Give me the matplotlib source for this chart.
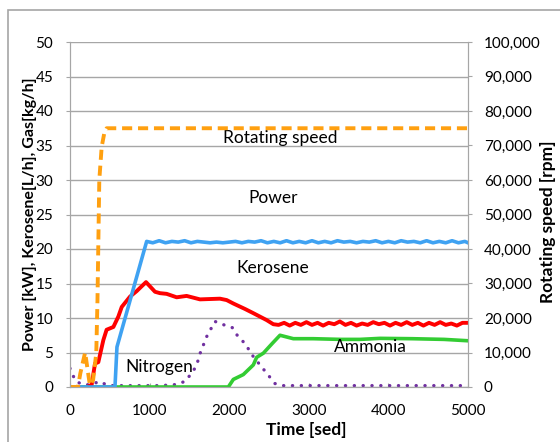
import matplotlib
matplotlib.use("Agg")
import matplotlib.pyplot as plt
from matplotlib.patches import Rectangle
from matplotlib.ticker import FuncFormatter

plt.rcParams['font.family'] = ['Lato', 'DejaVu Sans']

# rotating speed [rpm] (right axis)
rs_t = [0, 100, 130, 190, 250, 290, 330, 345, 368, 398, 430, 460, 5000]
rs_v = [0, 0, 4000, 10000, 500, 2000, 9800, 25000, 60000, 69600, 73500, 75000, 75000]

# power [kW]
pw_t = [0, 565, 590, 963, 1040, 1120, 1200, 1280, 1360, 1440, 1520, 1600, 1680,
        1760, 1840, 1920, 2000, 2080, 2160, 2240, 2320, 2400, 2480, 2560, 2640,
        2720, 2800, 2880, 2960, 3040, 3120, 3200, 3280, 3360, 3440, 3520, 3600,
        3680, 3760, 3840, 3920, 4000, 4080, 4160, 4240, 4320, 4400, 4480, 4560,
        4640, 4720, 4800, 4880, 4960, 5000]
pw_v = [0, 0, 5.8, 21.1, 20.9, 21.2, 20.9, 21.1, 21.0, 21.2, 20.9, 21.1, 21.0,
        20.9, 21.0, 20.9, 21.0, 21.1, 20.9, 21.1, 21.0, 21.2, 20.9, 21.1, 20.9,
        21.2, 20.9, 21.1, 20.9, 21.2, 20.9, 21.1, 20.9, 21.2, 21.0, 21.1, 20.9,
        21.1, 21.0, 21.2, 20.9, 21.1, 20.9, 21.2, 21.0, 21.1, 20.9, 21.2, 20.9,
        21.1, 20.9, 21.2, 20.9, 21.1, 20.9]

# kerosene [L/h]
ker_t = [250, 272, 314, 356, 419, 460, 545, 607, 650, 754, 838, 955, 1068, 1130,
         1214, 1340, 1465, 1633, 1884, 1968, 2052, 2200, 2303, 2470, 2554,
         2620, 2690, 2760, 2830, 2900, 2970, 3040, 3110, 3180, 3250, 3320, 3390,
         3460, 3530, 3600, 3670, 3740, 3810, 3880, 3950, 4020, 4090, 4160, 4230,
         4300, 4370, 4440, 4510, 4580, 4650, 4720, 4790, 4860, 4930, 5000]
ker_v = [0.2, 0.3, 3.4, 3.6, 6.8, 8.3, 8.7, 10.2, 11.6, 13.1, 13.9, 15.2, 13.8, 13.6,
         13.5, 13.0, 13.2, 12.7, 12.8, 12.6, 12.1, 11.3, 10.7, 9.7, 9.1,
         9.0, 9.3, 8.9, 9.3, 9.0, 9.4, 9.0, 9.3, 8.9, 9.3, 9.1, 9.5, 9.0,
         9.3, 8.9, 9.2, 9.0, 9.4, 9.1, 9.3, 8.9, 9.3, 9.0, 9.4, 9.0, 9.3,
         8.9, 9.3, 9.0, 9.4, 9.0, 9.2, 8.9, 9.3, 9.3]

# ammonia [kg/h]
amm_t = [0, 1989, 2052, 2177, 2303, 2345, 2429, 2540, 2638, 2806, 3057, 3400,
         3643, 3894, 4300, 4700, 5000]
amm_v = [0, 0, 1.1, 1.8, 3.2, 4.3, 4.9, 6.3, 7.5, 7.0, 7.0, 6.9, 6.9, 7.05,
         7.0, 6.9, 6.7]

# nitrogen [kg/h]
nit_t = [0, 30, 80, 150, 250, 370, 480, 800, 1100, 1300, 1445, 1528, 1591, 1625,
         1717, 1821, 1935, 2039, 2106, 2198, 2303, 2408, 2492, 2575, 2680, 3000,
         4000, 5000]
nit_v = [2.7, 1.8, 0.8, 0.4, 0.3, 0.8, 0.2, 0.2, 0.2, 0.3, 0.8, 2.0, 3.1, 4.6,
         7.3, 9.5, 9.0, 8.6, 7.4, 6.3, 4.4, 2.9, 1.7, 0.5, 0.2, 0.2, 0.2, 0.2]

grey = '#a6a6a6'

fig = plt.figure(figsize=(5.6, 4.42), dpi=100)
ax = fig.add_axes([70 / 560, 1 - 387 / 442, 398 / 560, 345 / 442])
ax2 = ax.twinx()

ax.plot(nit_t, nit_v, color='#7030a0', lw=2.4, linestyle=(0, (0.05, 2.6)),
        dash_capstyle='round')
ax.plot(amm_t, amm_v, color='#33cc33', lw=2.6)
ax.plot(ker_t, ker_v, color='#ff0000', lw=2.8)
ax.plot(pw_t, pw_v, color='#3fa2f2', lw=2.6)
ax2.plot(rs_t, rs_v, color='#ffa010', lw=2.8, linestyle=(0, (2.6, 1.5)))

ax.set_xlim(0, 5000)
ax.set_ylim(0, 50)
ax2.set_ylim(0, 100000)
ax.set_xticks(range(0, 5001, 1000))
ax.set_yticks(range(0, 51, 5))
ax2.set_yticks(range(0, 100001, 10000))
ax2.yaxis.set_major_formatter(FuncFormatter(lambda v, p: f'{int(v):,}'))

ax.yaxis.grid(True, color=grey, lw=1)
ax.set_axisbelow(True)
for a in (ax, ax2):
    a.spines['top'].set_visible(False)
    for s in ('left', 'right', 'bottom'):
        a.spines[s].set_color(grey)
    a.tick_params(labelsize=11, color=grey, length=3)
ax.tick_params(axis='y', pad=9)
ax2.tick_params(axis='y', pad=8.5)
ax.tick_params(axis='x', direction='in', pad=12)

ax.set_ylabel('Power [kW], Kerosene[L/h], Gas[kg/h]', fontsize=11.5,
              fontweight='bold')
ax.yaxis.set_label_coords(-0.083, 0.5)
ax2.set_ylabel('Rotating speed [rpm]', fontsize=12.5, fontweight='bold')
ax2.yaxis.set_label_coords(1.18, 0.48)
ax.set_xlabel('Time [sed]', fontsize=12.5, fontweight='bold')
ax.xaxis.set_label_coords(0.593, -0.102)

ax.text(2638, 36.1, 'Rotating speed', fontsize=12.5, ha='center', va='center')
ax.text(2550, 27.4, 'Power', fontsize=12.5, ha='center', va='center')
ax.text(2550, 17.2, 'Kerosene', fontsize=12.5, ha='center', va='center')
ax.text(1118, 2.9, 'Nitrogen', fontsize=12.5, ha='center', va='center')
ax.text(3770, 5.8, 'Ammonia', fontsize=12.5, ha='center', va='center')

fig.patches.append(Rectangle((8 / 560, -0.1), 1.2, (442 - 10) / 442 + 0.1,
                             transform=fig.transFigure, fill=False,
                             edgecolor=grey, lw=1.2))

fig.savefig('out.png', dpi=100)
